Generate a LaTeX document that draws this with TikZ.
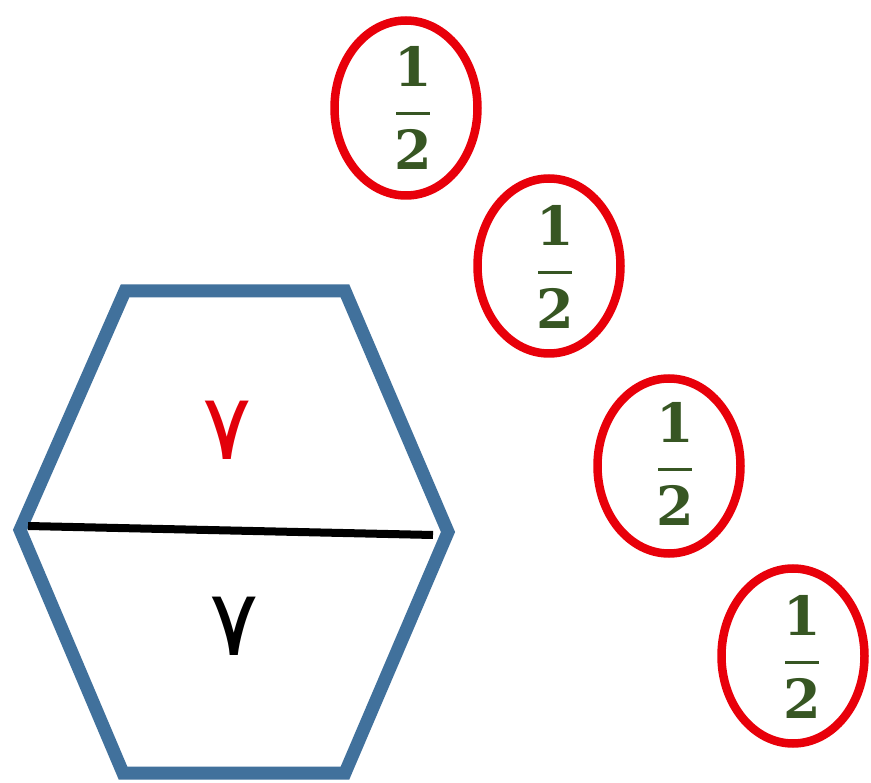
\documentclass[tikz,border=0pt]{standalone}
\usepackage{fontspec}
\newfontfamily\arabicfont[Script=Arabic]{DejaVu Sans}
\newfontfamily\fracfont{DejaVu Serif}
\TeXXeTstate=1
\usetikzlibrary{shapes.geometric}
\definecolor{hexblue}{RGB}{65,113,156}
\definecolor{ovalred}{RGB}{232,0,10}
\definecolor{fracgreen}{RGB}{55,86,35}
\definecolor{digitred}{RGB}{226,0,10}
\tikzset{
  oval/.style={draw=ovalred, line width=8.5pt, ellipse, minimum width=143pt, minimum height=175pt, inner sep=0pt},
  fracnum/.style={text=fracgreen, inner sep=0pt, anchor=base, font=\fracfont\bfseries\fontsize{54}{56}\selectfont},
  fracbar/.style={draw=fracgreen, line width=3pt},
  digit/.style={inner sep=0pt, font=\arabicfont\fontsize{92}{94}\selectfont}
}
\begin{document}
\begin{tikzpicture}[x=1pt,y=-1pt]
\useasboundingbox (0,0) rectangle (871,783);
\fill[white] (0,0) rectangle (871,783);
% hexagon
\coordinate (h1) at (125,291);
\coordinate (h2) at (345,291);
\coordinate (h3) at (448,532);
\coordinate (h4) at (345,773);
\coordinate (h5) at (123,773);
\coordinate (h6) at (20,530);
\draw[hexblue, line width=13pt, line join=miter] (h1) -- (h2) -- (h3) -- (h4) -- (h5) -- (h6) -- cycle;
% dividing line
\coordinate (l1) at (28,526);
\coordinate (l2) at (433,535);
\draw[black, line width=8pt] (l1) -- (l2);
% digits
\node[digit, text=digitred] (d1) at (227,430) {\beginR ٧\endR};
\node[digit, text=black] (d2) at (234,626) {\beginR ٧\endR};
% ovals
\node[oval] (o1) at (406,108) {};
\node[oval] (o2) at (549,266) {};
\node[oval] (o3) at (669,466) {};
\node[oval] (o4) at (793,656) {};
% fractions
\foreach \i/\x/\y in {1/413/114, 2/555/273, 3/675/470, 4/802/662}{
  \coordinate (b\i) at (\x,\y);
  \coordinate (bl\i) at ([xshift=-17pt]b\i);
  \coordinate (br\i) at ([xshift=17pt]b\i);
  \draw[fracbar] (bl\i) -- (br\i);
  \node[fracnum] (n\i) at ([yshift=27pt]b\i) {1};
  \node[fracnum] (m\i) at ([yshift=-56pt]b\i) {2};
}
\end{tikzpicture}
\end{document}
